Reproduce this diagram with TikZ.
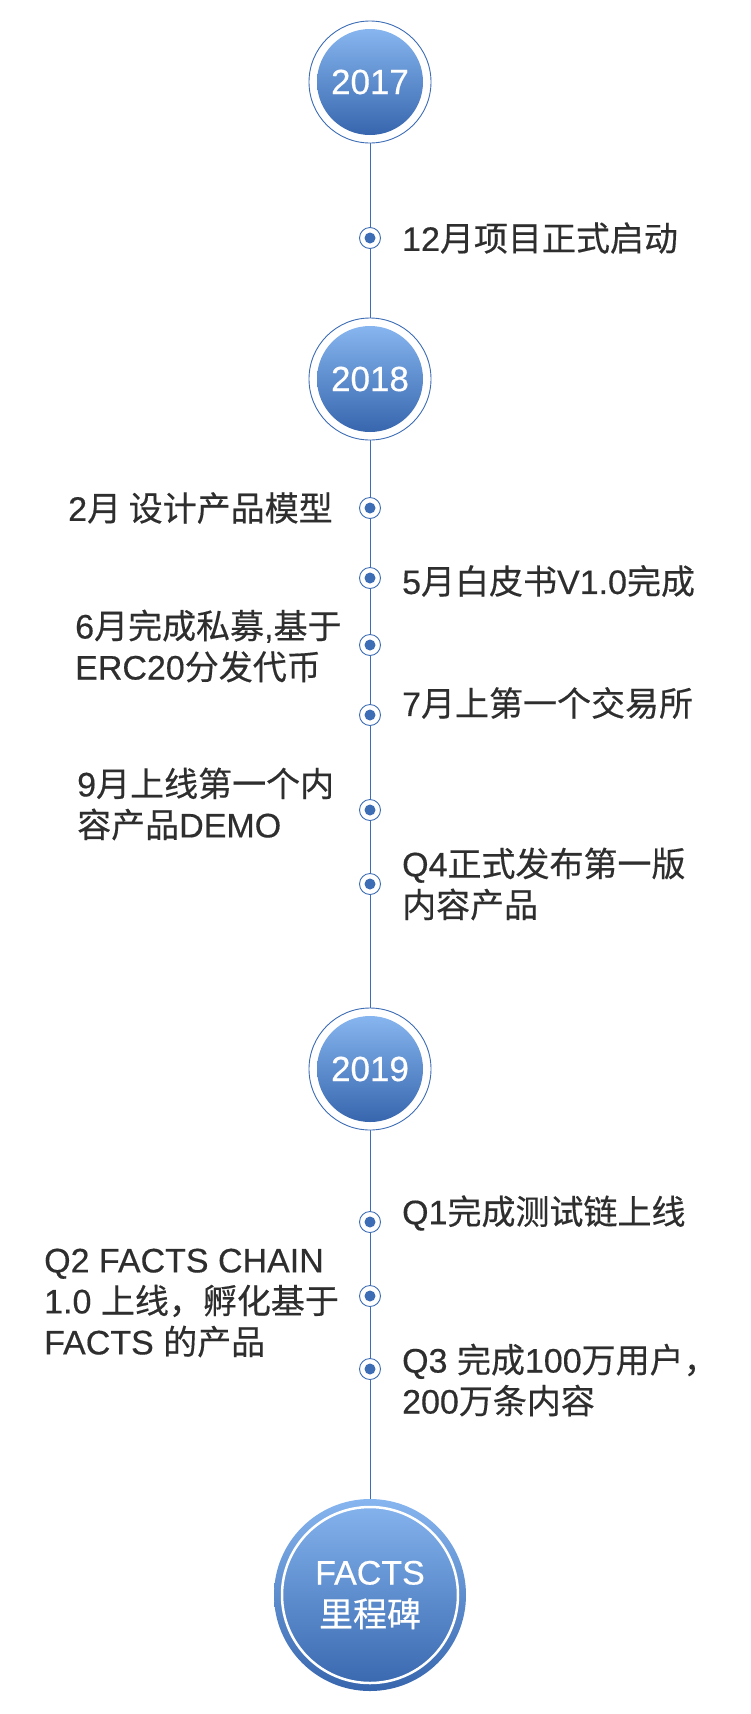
\documentclass[tikz,border=0pt]{standalone}
\usepackage{fontspec}
\setmainfont{Liberation Sans}
\newfontfamily\latinfont[FakeBold=0.4]{Liberation Sans}
\newfontfamily\cjkfont[FakeBold=0.4]{Noto Sans CJK SC}
\usepackage{xcolor}
\usetikzlibrary{positioning,backgrounds}
\definecolor{lineblue}{HTML}{3D6DB5}
\definecolor{topblue}{HTML}{86B5EF}
\definecolor{botblue}{HTML}{3766AE}
\definecolor{txtgray}{HTML}{2E2E2E}
% chinese characters go to the CJK font
\XeTeXinterchartokenstate=1
\newXeTeXintercharclass\cjkclass
\count255="4E00
\loop
  \XeTeXcharclass\count255=\cjkclass
  \ifnum\count255<"9FFF \advance\count255 by 1
\repeat
\XeTeXcharclass"FF0C=\cjkclass
\XeTeXinterchartoks 0 \cjkclass={\cjkfont}
\XeTeXinterchartoks 4095 \cjkclass={\cjkfont}
\XeTeXinterchartoks \cjkclass 0={\latinfont}
\XeTeXinterchartoks 4095 0={\latinfont}
\newcommand{\evfont}{\fontsize{34}{41}\selectfont}

\begin{document}
\begin{tikzpicture}[x=1pt,y=-1pt,node distance=21pt,
                    every node/.style={inner sep=0pt}]
  \tikzstyle{year}=[circle, minimum size=106pt, top color=topblue, bottom color=botblue,
                    text=white, font=\fontsize{35}{42}\selectfont]
  \tikzstyle{yearring}=[draw=lineblue, line width=0.9pt, fill=white]
  \tikzstyle{dot}=[circle, draw=lineblue, fill=white, line width=0.9pt, minimum size=21pt,
                   path picture={\fill[lineblue] (path picture bounding box.center) circle (5.5pt);}]
  \tikzstyle{ev}=[text=txtgray, align=left, font=\evfont]

  \useasboundingbox (0,0) rectangle (750,1714);

  \node[year] (y2017) at (370,82)   {2017};
  \node[year] (y2018) at (370,379)  {2018};
  \node[year] (y2019) at (370,1069) {2019};
  \node[circle, minimum size=192pt, top color=topblue, bottom color=botblue, text=white,
        align=center, font=\fontsize{34}{42}\selectfont] (facts) at (370,1595) {FACTS\\里程碑};
  \draw[white, line width=2.5pt] (facts.center) circle (88pt);

  \node[dot] (d12) at (370,238)  {};
  \node[dot] (d2)  at (370,508)  {};
  \node[dot] (d5)  at (370,578)  {};
  \node[dot] (d6)  at (370,645)  {};
  \node[dot] (d7)  at (370,715)  {};
  \node[dot] (d9)  at (370,810)  {};
  \node[dot] (dQ4) at (370,884)  {};
  \node[dot] (dQ1) at (370,1222) {};
  \node[dot] (dQ2) at (370,1296) {};
  \node[dot] (dQ3) at (370,1369) {};

  \node[ev, right=of d12]              (t12) {12月项目正式启动};
  \node[ev, right=of d5, yshift=-3pt]  (t5)  {5月白皮书V1.0完成};
  \node[ev, right=of d7, yshift=12pt]  (t7)  {7月上第一个交易所};
  \node[ev, right=of dQ4]              (tQ4) {Q4正式发布第一版\\内容产品};
  \node[ev, right=of dQ1, yshift=9pt]  (tQ1) {Q1完成测试链上线};
  \node[ev, right=of dQ3, yshift=-11pt] (tQ3) {Q3 完成100万用户，\\200万条内容};

  \node[ev, anchor=west] (t2)  at (68,508)  {2月 设计产品模型};
  \node[ev, anchor=west] (t6)  at (75,646)  {6月完成私募,基于\\ERC20分发代币};
  \node[ev, anchor=west] (t9)  at (77,804)  {9月上线第一个内\\容产品DEMO};
  \node[ev, anchor=west] (tQ2) at (44,1303) {Q2 FACTS CHAIN\\1.0 上线，孵化基于\\FACTS 的产品};

  \begin{scope}[on background layer]
    \draw[lineblue, line width=1pt] (y2017.center) -- (facts);
    \draw[yearring] (y2017.center) circle (61pt);
    \draw[yearring] (y2018.center) circle (61pt);
    \draw[yearring] (y2019.center) circle (61pt);
  \end{scope}
\end{tikzpicture}
\end{document}
